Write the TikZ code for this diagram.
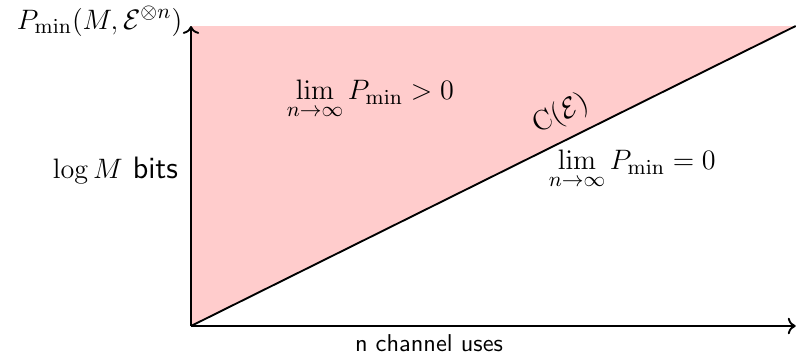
\documentclass[tikz,border=0pt]{standalone}
\usepackage{tikz}
\usetikzlibrary{arrows.meta,positioning,calc}
\usepackage{amsmath}
\usepackage{xcolor}
\definecolor{Region}{HTML}{FFCCCC}
\tikzset{
 axis/.style={->, thick, draw=black},
 rate/.style={thick, draw=black},
 mathlabel/.style={font=\fontsize{13.2}{15}\selectfont}
}

\begin{document}
\begin{tikzpicture}
\useasboundingbox (-2.865,-0.495) rectangle (9.075,4.89);
\coordinate (O) at (0,0);
\coordinate (xend) at (9.07,0);
\coordinate (yend) at (0,4.5);
\coordinate (corner) at (9.07,4.5);
% region above capacity
\fill[Region] (O) -- (yend) -- (corner) -- cycle;
\draw[rate] (O) -- (corner) node[pos=0.63, above=1pt, sloped, mathlabel] (cap) {$\mathrm{C}(\mathcal{E})$};
% axes
\draw[axis] (O) -- (xend);
\draw[axis] (O) -- (yend) node[left, yshift=2pt, mathlabel] (ylab) {$P_{\min}(M,\mathcal{E}^{\otimes n})$};
\node[left=2pt, mathlabel] (bits) at ($(O)!0.52!(yend)$) {$\log M$ \textsf{bits}};
\node[below, font=\fontsize{10.4}{12}\selectfont\sffamily] (uses) at (3.57,0) {n channel uses};
\node[mathlabel] (strong) at (2.69,3.39) {$\lim\limits_{n\to\infty} P_{\min} > 0$};
\node[mathlabel] (weak) at (6.62,2.34) {$\lim\limits_{n\to\infty} P_{\min} = 0$};
\end{tikzpicture}
\end{document}
